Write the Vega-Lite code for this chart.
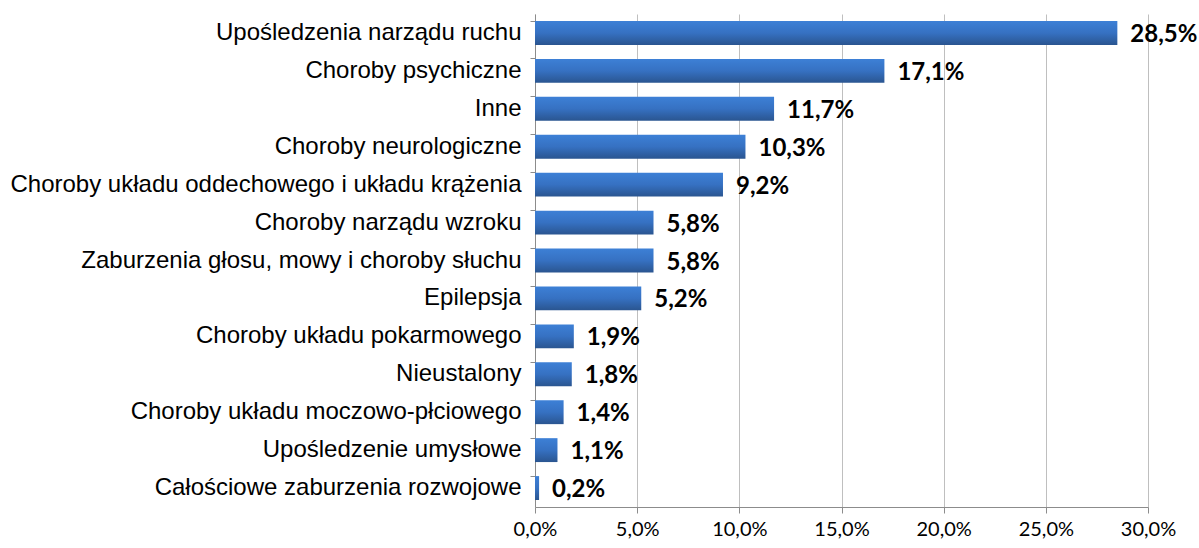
{
  "$schema": "https://vega.github.io/schema/vega-lite/v6.json",
  "autosize": {"type": "none"},
  "padding": {"left": 535, "top": 14, "right": 51, "bottom": 41},
  "width": 613,
  "height": 493,
  "background": "white",
  "config": {
    "locale": {"number": {"decimal": ",", "thousands": " ", "grouping": [3], "currency": ["", " zł"]}},
    "view": {"stroke": null}
  },
  "data": {
    "values": [
      {"kategoria": "Upośledzenia narządu ruchu", "wartosc": 0.285},
      {"kategoria": "Choroby psychiczne", "wartosc": 0.171},
      {"kategoria": "Inne", "wartosc": 0.117},
      {"kategoria": "Choroby neurologiczne", "wartosc": 0.103},
      {"kategoria": "Choroby układu oddechowego i układu krążenia", "wartosc": 0.092},
      {"kategoria": "Choroby narządu wzroku", "wartosc": 0.058},
      {"kategoria": "Zaburzenia głosu, mowy i choroby słuchu", "wartosc": 0.058},
      {"kategoria": "Epilepsja", "wartosc": 0.052},
      {"kategoria": "Choroby układu pokarmowego", "wartosc": 0.019},
      {"kategoria": "Nieustalony", "wartosc": 0.018},
      {"kategoria": "Choroby układu moczowo-płciowego", "wartosc": 0.014},
      {"kategoria": "Upośledzenie umysłowe", "wartosc": 0.011},
      {"kategoria": "Całościowe zaburzenia rozwojowe", "wartosc": 0.002}
    ]
  },
  "encoding": {
    "y": {
      "field": "kategoria",
      "type": "nominal",
      "sort": null,
      "scale": {"paddingInner": 0.37, "paddingOuter": 0.185},
      "axis": {
        "title": null,
        "labelFont": "Liberation Sans",
        "labelFontSize": 24,
        "labelColor": "#000000",
        "labelPadding": 9,
        "labelLimit": 600,
        "tickSize": 5,
        "tickColor": "#8c8c8c",
        "domainColor": "#8c8c8c",
        "bandPosition": 0,
        "grid": false
      }
    },
    "x": {
      "field": "wartosc",
      "type": "quantitative",
      "scale": {"domain": [0, 0.3], "nice": false},
      "axis": {
        "title": null,
        "format": ".1%",
        "values": [0, 0.05, 0.1, 0.15, 0.2, 0.25, 0.3],
        "labelFont": "Lato",
        "labelFontSize": 20,
        "labelColor": "#000000",
        "labelPadding": 6,
        "tickSize": 6,
        "tickColor": "#8c8c8c",
        "domainColor": "#8c8c8c",
        "grid": true,
        "gridColor": "#bfbfbf",
        "labelFlush": false
      }
    }
  },
  "layer": [
    {
      "mark": {
        "type": "bar",
        "color": {
          "gradient": "linear",
          "x1": 0, "y1": 0, "x2": 0, "y2": 1,
          "stops": [
            {"offset": 0, "color": "#3d80d6"},
            {"offset": 0.5, "color": "#3671c2"},
            {"offset": 1, "color": "#2a5590"}
          ]
        }
      }
    },
    {
      "mark": {
        "type": "text",
        "align": "left",
        "baseline": "middle",
        "dx": 13,
        "dy": 2,
        "font": "Lato",
        "fontWeight": "bold",
        "fontSize": 24,
        "color": "#000000"
      },
      "encoding": {
        "text": {"field": "wartosc", "type": "quantitative", "format": ".1%"}
      }
    }
  ]
}
